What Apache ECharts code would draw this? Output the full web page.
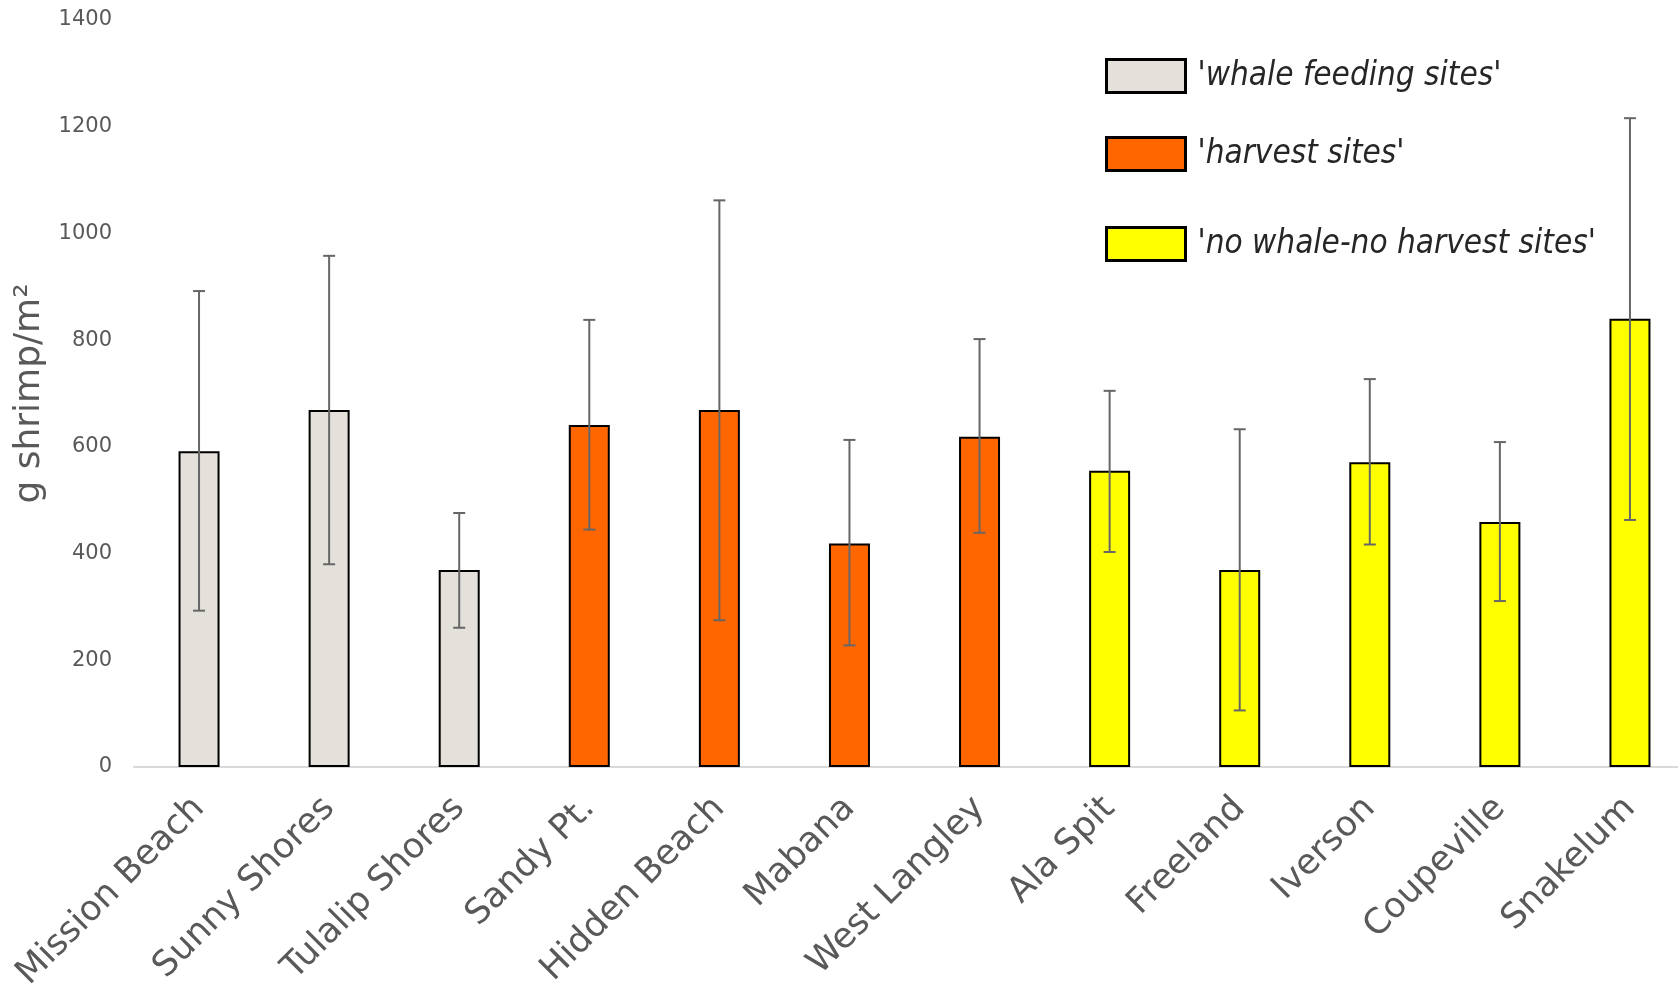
<!DOCTYPE html>
<html><head><meta charset="utf-8">
<script src="https://cdn.jsdelivr.net/npm/echarts@6/dist/echarts.min.js"></script>
<style>html,body{margin:0;padding:0;background:#fff;overflow:hidden}#c{width:1695px;height:998px}</style>
</head><body><div id="c"></div>
<script>
const categories = ['Mission Beach','Sunny Shores','Tulalip Shores','Sandy Pt.','Hidden Beach','Mabana','West Langley','Ala Spit','Freeland','Iverson','Coupeville','Snakelum'];
const values = [592, 669, 369, 641, 669, 419, 619, 555, 369, 571, 459, 840];
const errUpper = [892, 958, 476, 838, 1062, 613, 802, 705, 633, 727, 609, 1216];
const errLower = [293, 380, 261, 445, 275, 228, 439, 403, 106, 417, 311, 463];
const groups = [0,0,0,1,1,1,1,2,2,2,2,2];
const groupNames = ["'whale feeding sites'", "'harvest sites'", "'no whale-no harvest sites'"];
const groupColors = ['#E4E1DB', '#FF6600', '#FFFF00'];
const yTicks = [0, 200, 400, 600, 800, 1000, 1200, 1400];

const chart = echarts.init(document.getElementById('c'));
const barSeries = groupNames.map((name, g) => ({
  name, type: 'bar', barWidth: 41, barGap: '-100%',
  itemStyle: { color: groupColors[g], borderColor: '#000', borderWidth: 2 },
  data: values.map((v, i) => groups[i] === g ? v : '-'),
  z: 2
}));
const errData = categories.map((c, i) => [i, errLower[i], errUpper[i]]);
const legendTops = [53, 131, 221];
const legends = groupNames.map((name, g) => ({
  data: [name], left: 1100, top: legendTops[g], orient: 'vertical',
  icon: 'rect', itemWidth: 79, itemHeight: 33, itemGap: 10,
  itemStyle: { borderColor: '#000', borderWidth: 3 },
  textStyle: { fontFamily: "'Liberation Sans Narrow', 'DejaVu Sans Condensed', 'Roboto Condensed', 'Open Sans Condensed', sans-serif", fontStyle: 'italic', fontSize: 33, color: '#262626', padding: [0,0,0,7] },
  selectedMode: false
}));
chart.setOption({
  animation: false,
  legend: legends,
  grid: { left: 134, top: 20, bottom: 231, right: 0, containLabel: false },
  xAxis: {
    type: 'category', data: categories,
    axisLine: { lineStyle: { color: '#D9D9D9', width: 2 } },
    axisTick: { show: false },
    axisLabel: { rotate: 45, interval: 0, margin: 36, color: '#595959', fontFamily: 'DejaVu Sans', fontSize: 35, fontWeight: 'normal' }
  },
  yAxis: {
    type: 'value', min: yTicks[0], max: yTicks[yTicks.length-1], interval: 200,
    name: 'g shrimp/m²', nameLocation: 'middle', nameRotate: 90, nameGap: 68,
    nameTextStyle: { color: '#595959', fontFamily: 'DejaVu Sans', fontSize: 36 },
    splitLine: { show: false }, axisLine: { show: false }, axisTick: { show: false },
    axisLabel: { margin: 22, color: '#595959', fontFamily: 'DejaVu Sans', fontSize: 21, formatter: v => String(v) }
  },
  series: barSeries.concat([{
    type: 'custom', name: 'err', z: 5,
    renderItem: (params, api) => {
      const hi = api.coord([api.value(0), api.value(2)]);
      const lo = api.coord([api.value(0), api.value(1)]);
      const hw = 6;
      const st = { stroke: '#666', lineWidth: 2 };
      return { type: 'group', children: [
        { type: 'line', shape: { x1: hi[0], y1: hi[1], x2: lo[0], y2: lo[1] }, style: st },
        { type: 'line', shape: { x1: hi[0]-hw, y1: hi[1], x2: hi[0]+hw, y2: hi[1] }, style: st },
        { type: 'line', shape: { x1: lo[0]-hw, y1: lo[1], x2: lo[0]+hw, y2: lo[1] }, style: st }
      ]};
    },
    encode: { x: 0, y: [1, 2] },
    data: errData
  }])
});
</script></body></html>
